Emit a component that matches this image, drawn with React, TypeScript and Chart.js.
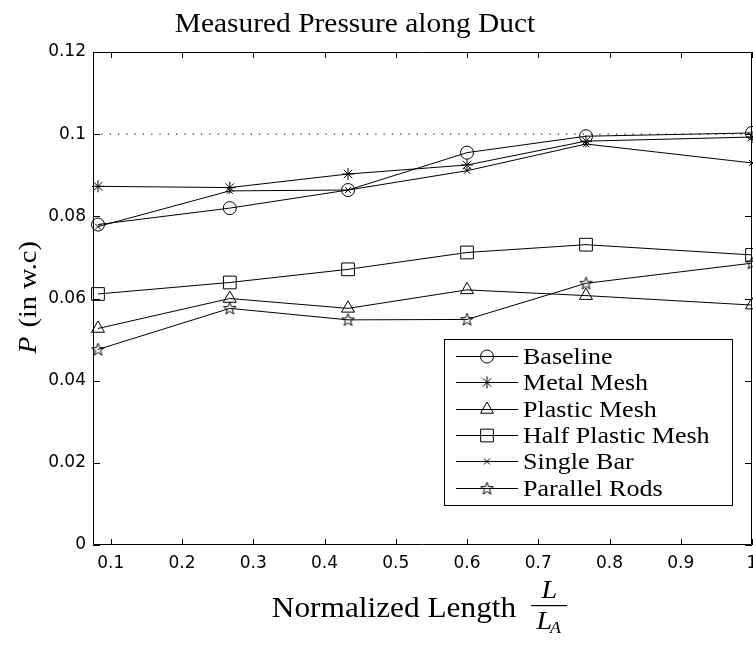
import React, { useEffect, useRef } from 'react';
import { Chart, registerables } from 'chart.js';
import { drawPoint } from 'chart.js/helpers';

Chart.register(...registerables);

// ---- data ----
const xPositions = [0.082, 0.267, 0.433, 0.6, 0.767, 1.0];
const baselineValues = [0.078, 0.082, 0.0864, 0.0955, 0.0995, 0.1003];
const metalMeshValues = [0.0873, 0.087, 0.0903, 0.0925, 0.0983, 0.0993];
const plasticMeshValues = [0.0527, 0.06, 0.0576, 0.0621, 0.0607, 0.0584];
const halfPlasticMeshValues = [0.0611, 0.0639, 0.0671, 0.0712, 0.0731, 0.0706];
const singleBarValues = [0.0775, 0.0862, 0.0864, 0.0911, 0.0976, 0.093];
const parallelRodsValues = [0.0476, 0.0576, 0.0548, 0.0549, 0.0637, 0.0686];
const seriesLabels = ['Baseline', 'Metal Mesh', 'Plastic Mesh', 'Half Plastic Mesh', 'Single Bar', 'Parallel Rods'];
const referenceLevel = 0.1;
const xRange = [0.075, 1.0];
const yRange = [0, 0.12];
const xStep = 0.1;
const yStep = 0.02;
const titleText = 'Measured Pressure along Duct';
const xTitleText = 'Normalized Length';
const yTitleVar = 'P';
const yTitleRest = ' (in w.c)';

const fmt = (v: number) => String(Number(v.toFixed(3)));

function makePentagram(): HTMLCanvasElement {
  const c = document.createElement('canvas');
  c.width = 15;
  c.height = 15;
  const g = c.getContext('2d')!;
  g.strokeStyle = '#000';
  g.lineWidth = 1;
  g.beginPath();
  for (let i = 0; i < 10; i++) {
    const r = i % 2 ? 2.7 : 6.6;
    const a = -Math.PI / 2 + (i * Math.PI) / 5;
    const px = 7.5 + r * Math.cos(a);
    const py = 7.8 + r * Math.sin(a);
    if (i === 0) g.moveTo(px, py);
    else g.lineTo(px, py);
  }
  g.closePath();
  g.stroke();
  return c;
}

const SERIF = '"Liberation Serif", "Times New Roman", serif';

function scaledText(ctx: CanvasRenderingContext2D, text: string, x: number, y: number, font: string, sx: number, align: 'left' | 'center' | 'right') {
  ctx.save();
  ctx.font = font;
  const w = ctx.measureText(text).width * sx;
  const left = align === 'center' ? x - w / 2 : align === 'right' ? x - w : x;
  ctx.translate(left, y);
  ctx.scale(sx, 1);
  ctx.textAlign = 'left';
  ctx.fillText(text, 0, 0);
  ctx.restore();
  return w;
}

const framePlugin = {
  id: 'frameTicks',
  afterDatasetsDraw(chart: any) {
    const { ctx, chartArea: ca, scales } = chart;
    ctx.save();
    ctx.strokeStyle = '#000';
    ctx.lineWidth = 1;
    ctx.beginPath();
    ctx.rect(ca.left + 0.5, ca.top + 0.5, ca.right - ca.left - 1, ca.bottom - ca.top - 1);
    ctx.stroke();
    const xs = scales.x;
    const ys = scales.y;
    ctx.beginPath();
    xs.ticks.forEach((t: any) => {
      const px = Math.round(xs.getPixelForValue(t.value)) + 0.5;
      ctx.moveTo(px, ca.bottom);
      ctx.lineTo(px, ca.bottom - 6);
      ctx.moveTo(px, ca.top);
      ctx.lineTo(px, ca.top + 6);
    });
    ys.ticks.forEach((t: any) => {
      const py = Math.round(ys.getPixelForValue(t.value)) + 0.5;
      ctx.moveTo(ca.left, py);
      ctx.lineTo(ca.left + 7, py);
      ctx.moveTo(ca.right, py);
      ctx.lineTo(ca.right - 7, py);
    });
    ctx.stroke();
    ctx.restore();
  },
};

const textPlugin = {
  id: 'serifTexts',
  afterDraw(chart: any) {
    const { ctx, chartArea: ca } = chart;
    ctx.save();
    ctx.fillStyle = '#000';
    ctx.textBaseline = 'alphabetic';
    // title
    scaledText(ctx, titleText, ca.left + 262, 32, `27px ${SERIF}`, 1.09, 'center');

    // x title with fraction
    const cx = (ca.left + ca.right) / 2;
    const mainFont = `29px ${SERIF}`;
    ctx.font = mainFont;
    const mainW = ctx.measureText(xTitleText).width * 1.08;
    const gap = 15;
    const barW = 36;
    const total = mainW + gap + barW;
    const startX = cx - total / 2 - 3;
    scaledText(ctx, xTitleText, startX, 617, mainFont, 1.08, 'left');
    const fracL = startX + mainW + gap;
    const fracC = fracL + barW / 2;
    ctx.fillRect(fracL, 605, barW, 1.2);
    scaledText(ctx, 'L', fracC, 598, `italic 26px ${SERIF}`, 1.08, 'center');
    const lw = scaledText(ctx, 'L', fracC - 5, 629, `italic 26px ${SERIF}`, 1.08, 'center');
    scaledText(ctx, 'A', fracC - 5 + lw / 2 - 2, 633, `italic 17px ${SERIF}`, 1.05, 'left');

    // y title rotated
    ctx.save();
    const cy = (ca.top + ca.bottom) / 2;
    ctx.translate(36, cy);
    ctx.rotate(-Math.PI / 2);
    ctx.font = `italic 26px ${SERIF}`;
    const pW = ctx.measureText(yTitleVar).width * 1.09;
    ctx.font = `26px ${SERIF}`;
    const rW = ctx.measureText(yTitleRest).width * 1.09;
    const yl = -(pW + rW) / 2;
    scaledText(ctx, yTitleVar, yl, 0, `italic 26px ${SERIF}`, 1.09, 'left');
    scaledText(ctx, yTitleRest, yl + pW + 2, 0, `26px ${SERIF}`, 1.09, 'left');
    ctx.restore();
    ctx.restore();
  },
};

const legendPlugin = {
  id: 'insideLegend',
  afterDraw(chart: any) {
    const { ctx, chartArea: ca } = chart;
    const items = chart.data.datasets.filter((d: any) => d.label);
    const right = ca.right - 20;
    const bottom = ca.bottom - 40;
    const width = 288;
    const height = 166;
    const left = right - width;
    const top = bottom - height;
    ctx.save();
    ctx.fillStyle = '#fff';
    ctx.fillRect(left, top, width, height);
    ctx.strokeStyle = '#000';
    ctx.lineWidth = 1;
    ctx.strokeRect(left + 0.5, top + 0.5, width, height);
    items.forEach((d: any, i: number) => {
      const y = Math.round(top + 17 + i * 26.3) + 0.5;
      ctx.strokeStyle = '#000';
      ctx.lineWidth = 1;
      ctx.beginPath();
      ctx.moveTo(left + 12, y);
      ctx.lineTo(left + 74, y);
      ctx.stroke();
      ctx.fillStyle = 'rgba(0,0,0,0)';
      drawPoint(ctx, { pointStyle: d.pointStyle, radius: d.pointRadius, borderWidth: 1, rotation: 0 } as any, left + 43, y);
      ctx.fillStyle = '#000';
      ctx.textBaseline = 'middle';
      scaledText(ctx, d.label, left + 79, y + 1, `24px ${SERIF}`, 1.085, 'left');
    });
    ctx.restore();
  },
};

export default function App() {
  const ref = useRef<HTMLCanvasElement | null>(null);
  useEffect(() => {
    if (!ref.current) return;
    const star5 = makePentagram();
    const series = [baselineValues, metalMeshValues, plasticMeshValues, halfPlasticMeshValues, singleBarValues, parallelRodsValues];
    const styles: any[] = ['circle', 'star', 'triangle', 'rect', 'crossRot', star5];
    const radii = [6.5, 6, 7.5, 9, 4.2, 7];
    const datasets: any[] = series.map((vals, i) => ({
      label: seriesLabels[i],
      data: vals.map((v, j) => ({ x: xPositions[j], y: v })),
      borderColor: '#000',
      borderWidth: 1,
      pointStyle: styles[i],
      pointRadius: radii[i],
      pointBorderColor: '#000',
      pointBackgroundColor: 'rgba(0,0,0,0)',
      pointBorderWidth: 1,
      fill: false,
      tension: 0,
      clip: false,
    }));
    datasets.push({
      label: '',
      data: [{ x: xRange[0], y: referenceLevel }, { x: xRange[1], y: referenceLevel }],
      borderColor: '#333',
      borderWidth: 1.3,
      borderDash: [1.3, 7],
      pointRadius: 0,
      fill: false,
    });
    const chart = new Chart(ref.current, {
      type: 'line',
      data: { datasets },
      options: {
        animation: false,
        responsive: false,
        devicePixelRatio: 1,
        layout: { autoPadding: false, padding: { top: 52, right: 1, left: 0, bottom: 0 } },
        plugins: { legend: { display: false }, title: { display: false }, tooltip: { enabled: false } },
        events: [],
        scales: {
          x: {
            type: 'linear',
            min: xRange[0],
            max: xRange[1],
            grid: { display: false, drawTicks: false },
            border: { display: false },
            ticks: {
              stepSize: xStep,
              includeBounds: false,
              maxRotation: 0,
              autoSkip: false,
              padding: 8,
              color: '#000',
              font: { family: '"DejaVu Sans"', size: 17 },
              callback: (v: any) => fmt(Number(v)),
            },
            afterFit: (s: any) => {
              s.height = 100;
              s.paddingLeft = 0;
              s.paddingRight = 0;
            },
          },
          y: {
            type: 'linear',
            min: yRange[0],
            max: yRange[1],
            grid: { display: false, drawTicks: false },
            border: { display: false },
            ticks: {
              stepSize: yStep,
              padding: 7,
              color: '#000',
              font: { family: '"DejaVu Sans"', size: 17 },
              callback: (v: any) => fmt(Number(v)),
            },
            afterFit: (s: any) => {
              s.width = 93;
              s.paddingTop = 0;
              s.paddingBottom = 0;
            },
          },
        },
      } as any,
      plugins: [framePlugin, textPlugin, legendPlugin],
    });
    return () => chart.destroy();
  }, []);
  return (
    <div style={{ position: 'fixed', left: 0, top: 0, width: 753, height: 645, background: '#fff', overflow: 'hidden' }}>
      <canvas ref={ref} width={753} height={645} style={{ display: 'block' }} />
    </div>
  );
}
